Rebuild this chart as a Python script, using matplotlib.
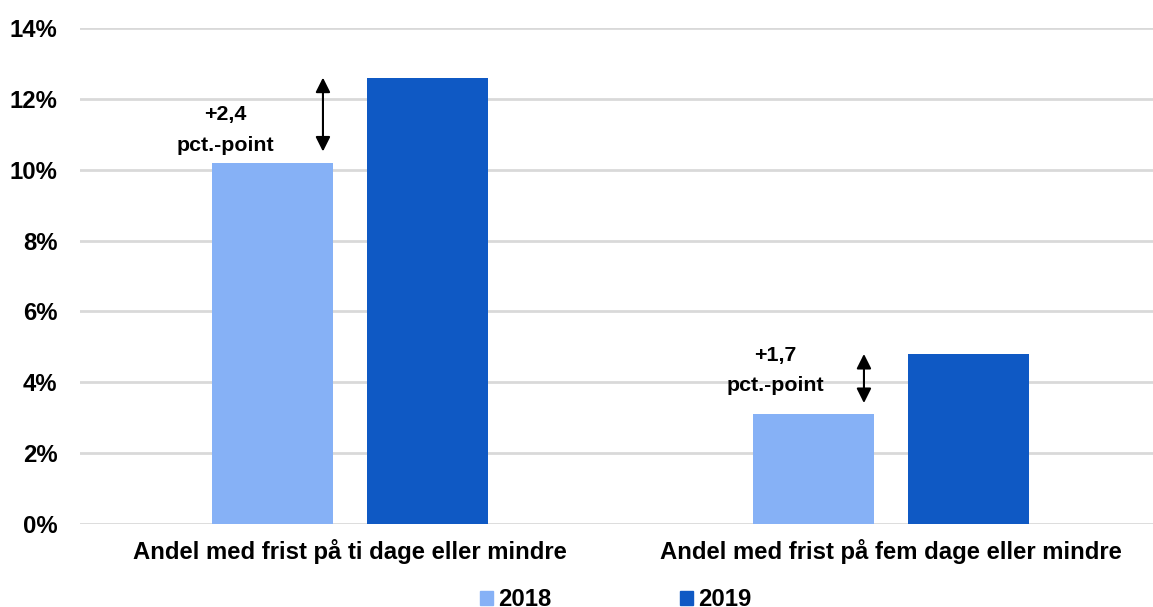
import matplotlib.pyplot as plt
import numpy as np
from matplotlib.ticker import FuncFormatter
from matplotlib.patches import Patch

plt.rcParams['font.family'] = ['Liberation Sans', 'DejaVu Sans']
plt.rcParams['font.weight'] = 'bold'

categories = ['Andel med frist på ti dage eller mindre',
              'Andel med frist på fem dage eller mindre']
years = ['2018', '2019']
values_2018 = [10.2, 3.1]
values_2019 = [12.6, 4.8]
diff_labels = ['+2,4\npct.-point', '+1,7\npct.-point']

# where the difference labels sit (x offset from group centre, y in %)
label_dx = [-0.231, -0.213]
label_y = [11.12, 4.33]

color_2018 = '#86B1F6'
color_2019 = '#0F59C4'

fig = plt.figure(figsize=(11.53, 6.07), dpi=100)
ax = fig.add_axes([79.5 / 1153, 83 / 607, 1082 / 1153, 496 / 607])

x = np.arange(len(categories))
width = 0.224
offset = 0.143
ax.bar(x - offset, values_2018, width, color=color_2018, zorder=3)
ax.bar(x + offset, values_2019, width, color=color_2019, zorder=3)

# difference arrows and labels
for i in range(len(categories)):
    lo = values_2018[i]
    hi = values_2019[i]
    ax.annotate('', xy=(x[i] - 0.05, hi), xytext=(x[i] - 0.05, lo),
                arrowprops=dict(arrowstyle='<|-|>', color='black', lw=1.5,
                                mutation_scale=22, shrinkA=8, shrinkB=0))
    ax.text(x[i] + label_dx[i], label_y[i], diff_labels[i], ha='center', va='center',
            fontsize=15.4, fontweight='bold', linespacing=1.75)

ax.set_xlim(-0.5, 1.5)
ax.set_ylim(0, 14)
ax.set_yticks(np.arange(0, 15, 2))
ax.yaxis.set_major_formatter(FuncFormatter(lambda v, p: '%d%%' % v))
ax.set_xticks(x)
ax.set_xticklabels(categories)
ax.tick_params(axis='both', length=0, labelsize=17.2)
ax.tick_params(axis='y', pad=16)
ax.tick_params(axis='x', pad=11)
ax.grid(axis='y', color='#D9D9D9', lw=2, zorder=0)
for s in ax.spines.values():
    s.set_visible(False)

handles = [Patch(color=color_2018), Patch(color=color_2019)]
fig.legend(handles, years, loc='center', bbox_to_anchor=(0.534, 0.012), ncol=2,
           frameon=False, fontsize=17.2, handlelength=0.55, handleheight=0.55,
           columnspacing=5.4, handletextpad=0.2)

fig.savefig('out.png', dpi=100)
